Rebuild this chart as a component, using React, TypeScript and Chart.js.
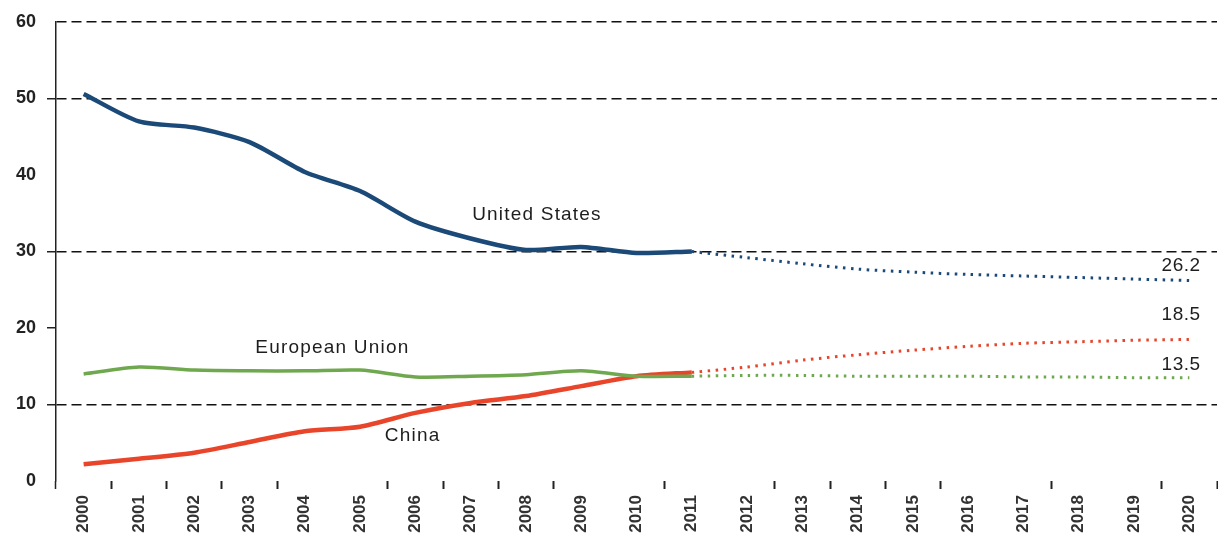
import React, { useEffect, useRef } from 'react';
import { Chart, registerables } from 'chart.js';

Chart.register(...registerables);

// ---------- data ----------
const years = [
  '2000', '2001', '2002', '2003', '2004', '2005', '2006', '2007', '2008', '2009', '2010',
  '2011', '2012', '2013', '2014', '2015', '2016', '2017', '2018', '2019', '2020',
];
// 2000-2011 (solid)
const usActual = [50.6, 47.0, 46.2, 44.3, 40.4, 37.9, 33.9, 31.7, 30.2, 30.6, 29.8, 30.0];
const chinaActual = [2.2, 2.9, 3.7, 5.1, 6.5, 7.1, 8.9, 10.2, 11.1, 12.4, 13.7, 14.2];
const euActual = [14.0, 14.9, 14.5, 14.4, 14.4, 14.5, 13.6, 13.7, 13.9, 14.4, 13.7, 13.7];
// 2012-2020 (dotted projection)
const usProjection = [29.2, 28.4, 27.7, 27.3, 27.0, 26.8, 26.6, 26.4, 26.2];
const chinaProjection = [14.9, 15.8, 16.5, 17.1, 17.6, 18.0, 18.2, 18.4, 18.5];
const euProjection = [13.8, 13.8, 13.7, 13.7, 13.7, 13.6, 13.6, 13.5, 13.5];

const yMin = 0;
const yMax = 60;
const yStep = 10;
const dashedGridValues = [10, 30, 50, 60];
const yTickMarkValues = [10, 20, 30, 50];
const hiddenXTickMarks = [5, 10, 12, 17, 19, 21];

const seriesNames = ['United States', 'China', 'European Union'];
// label anchors in data units (category index, value)
const seriesLabelX = [8.2, 5.95, 4.5];
const seriesLabelY = [34.8, 5.9, 17.4];
const endLabelX = [19.85, 19.85, 19.85];
const endLabelY = [28.2, 21.7, 15.2];

const colors = {
  us: '#1c4a78',
  china: '#e8452a',
  eu: '#6fa84e',
};

function actualData(values: number[]) {
  return years.map((_, i) => (i < values.length ? values[i] : null));
}
function projectionData(actual: number[], proj: number[]) {
  const start = actual.length - 1;
  return years.map((_, i) => {
    if (i < start) return null;
    if (i === start) return actual[start];
    return proj[i - start - 1];
  });
}

const FONT = '"Liberation Sans", Arial, Helvetica, sans-serif';

const labelPlugin = {
  id: 'seriesLabels',
  afterDatasetsDraw(chart: any) {
    const { ctx, scales } = chart;
    const x = scales.x;
    const y = scales.y;
    ctx.save();
    ctx.fillStyle = '#1e1e1e';
    ctx.textAlign = 'center';
    ctx.textBaseline = 'middle';
    ctx.font = `19px ${FONT}`;
    (ctx as any).letterSpacing = '1.2px';
    seriesNames.forEach((name, i) => {
      ctx.fillText(name, x.getPixelForValue(seriesLabelX[i]), y.getPixelForValue(seriesLabelY[i]));
    });
    (ctx as any).letterSpacing = '0.5px';
    ctx.font = `19px ${FONT}`;
    const ends = [usProjection, chinaProjection, euProjection];
    ends.forEach((arr, i) => {
      const v = arr[arr.length - 1];
      ctx.fillText(v.toFixed(1), x.getPixelForValue(endLabelX[i]), y.getPixelForValue(endLabelY[i]));
    });
    ctx.restore();
  },
};

export default function App() {
  const canvasRef = useRef<HTMLCanvasElement | null>(null);

  useEffect(() => {
    document.body.style.margin = '0';
    const canvas = canvasRef.current;
    if (!canvas) return;

    const solid = (label: string, data: any[], color: string, width: number) => ({
      label,
      data,
      borderColor: color,
      backgroundColor: color,
      borderWidth: width,
      pointRadius: 0,
      tension: 0.25,
      spanGaps: false,
      fill: false,
    });
    const dotted = (label: string, data: any[], color: string) => ({
      label,
      data,
      borderColor: color,
      backgroundColor: color,
      borderWidth: 3,
      borderDash: [2.5, 5.5],
      pointRadius: 0,
      tension: 0.3,
      spanGaps: false,
      fill: false,
    });

    const chart = new Chart(canvas, {
      type: 'line',
      data: {
        labels: years,
        datasets: [
          dotted('US projection', projectionData(usActual, usProjection), colors.us),
          dotted('China projection', projectionData(chinaActual, chinaProjection), colors.china),
          dotted('EU projection', projectionData(euActual, euProjection), colors.eu),
          solid('European Union', actualData(euActual), colors.eu, 3.5),
          solid('China', actualData(chinaActual), colors.china, 4.5),
          solid('United States', actualData(usActual), colors.us, 4.5),
        ],
      },
      options: {
        responsive: false,
        animation: false,
        layout: { padding: { top: 22, right: 1, left: 0, bottom: 0 } },
        plugins: {
          legend: { display: false },
          tooltip: { enabled: false },
          title: { display: false },
        },
        scales: {
          x: {
            type: 'category',
            offset: true,
            afterFit: (s: any) => {
              s.height = 67;
            },
            grid: {
              offset: true,
              display: true,
              drawOnChartArea: false,
              drawTicks: true,
              tickLength: 8,
              tickColor: (c: any) =>
                hiddenXTickMarks.includes(c.index) ? 'rgba(0,0,0,0)' : '#222',
              tickWidth: (c: any) => (c.index === 0 ? 1.5 : 2),
            },
            border: { display: false },
            ticks: {
              autoSkip: false,
              minRotation: 90,
              maxRotation: 90,
              padding: 6,
              color: '#333',
              font: { family: FONT, size: 17, weight: 'bold' },
            },
          },
          y: {
            min: yMin,
            max: yMax,
            afterFit: (s: any) => {
              s.width = 56;
            },
            grid: {
              display: true,
              drawOnChartArea: true,
              drawTicks: true,
              tickLength: 9,
              color: (c: any) =>
                c.tick && dashedGridValues.includes(c.tick.value) ? '#111' : 'rgba(0,0,0,0)',
              lineWidth: 1.5,
              tickColor: (c: any) =>
                c.tick && yTickMarkValues.includes(c.tick.value) ? '#222' : 'rgba(0,0,0,0)',
              tickWidth: 1.5,
            },
            border: { display: true, color: '#222', width: 1.5, dash: [10, 5] },
            ticks: {
              stepSize: yStep,
              padding: 11,
              color: '#222',
              font: { family: FONT, size: 18, weight: 'bold' },
            },
          },
        },
      } as any,
      plugins: [labelPlugin],
    });

    return () => {
      chart.destroy();
    };
  }, []);

  return (
    <div style={{ width: 1218, height: 548, background: '#fff' }}>
      <canvas ref={canvasRef} width={1218} height={548} />
    </div>
  );
}
